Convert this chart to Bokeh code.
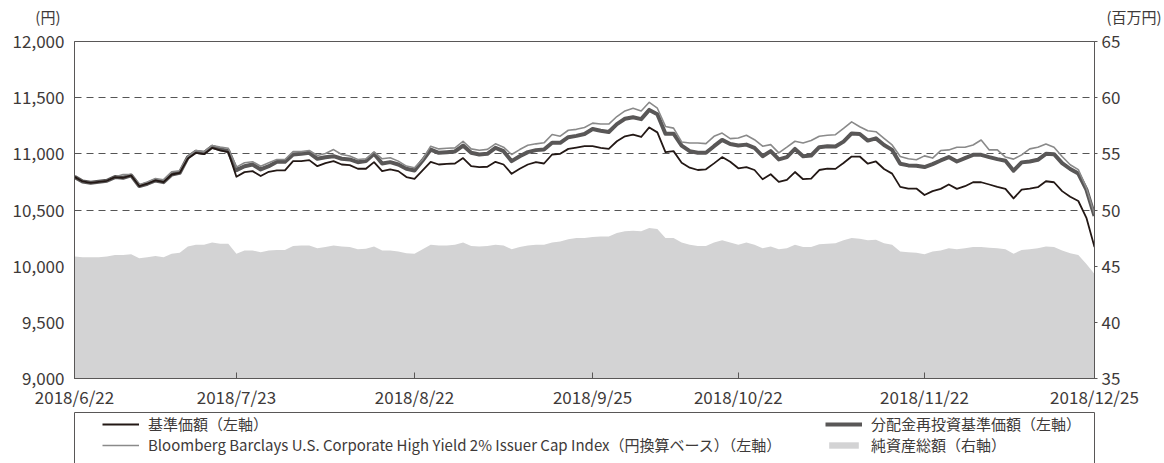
import pandas as pd
from bokeh.plotting import figure
from bokeh.models import (Range1d, LinearAxis, FixedTicker, Legend, LegendItem,
                          NumeralTickFormatter, ColumnDataSource)
from bokeh.layouts import column
from bokeh.embed import file_html
from bokeh.resources import INLINE

# ---------------- data ----------------
holidays = ["2018-07-16", "2018-09-17", "2018-09-24", "2018-10-08", "2018-11-23", "2018-12-24"]
dates = [d for d in pd.bdate_range("2018-06-22", "2018-12-25") if d.strftime("%Y-%m-%d") not in holidays]

tick_dates = ["2018-06-22", "2018-07-23", "2018-08-22", "2018-09-25", "2018-10-22", "2018-11-22", "2018-12-25"]
tick_labels = ["2018/6/22", "2018/7/23", "2018/8/22", "2018/9/25", "2018/10/22", "2018/11/22", "2018/12/25"]

left_ticks = [9000, 9500, 10000, 10500, 11000, 11500, 12000]
right_ticks = [35, 40, 45, 50, 55, 60, 65]

# 基準価額
nav = [10795, 10754, 10742, 10751, 10760, 10793, 10787, 10808, 10713, 10734,
       10763, 10748, 10816, 10831, 10959, 11009, 10997, 11053, 11030, 11015,
       10796, 10837, 10846, 10802, 10840, 10852, 10852, 10935, 10935, 10944,
       10890, 10917, 10935, 10905, 10899, 10867, 10867, 10926, 10846, 10861,
       10846, 10793, 10778, 10852, 10929, 10905, 10911, 10914, 10962, 10890,
       10882, 10885, 10929, 10905, 10822, 10867, 10905, 10926, 10914, 10994,
       11000, 11044, 11056, 11068, 11068, 11053, 11044, 11112, 11156, 11171,
       11150, 11235, 11191, 11015, 11024, 10921, 10877, 10856, 10862, 10915,
       10971, 10929, 10871, 10882, 10856, 10774, 10818, 10750, 10768, 10838,
       10774, 10780, 10856, 10868, 10866, 10918, 10976, 10976, 10912, 10932,
       10865, 10824, 10706, 10691, 10691, 10633, 10668, 10688, 10727, 10688,
       10712, 10747, 10747, 10727, 10706, 10688, 10603, 10682, 10691, 10703,
       10756, 10747, 10668, 10618, 10580, 10430, 10170]

# 分配金再投資基準価額
nav_reinv = [10795, 10754, 10742, 10751, 10760, 10793, 10787, 10808, 10713, 10734,
             10763, 10748, 10816, 10831, 10969, 11019, 11007, 11063, 11040, 11025,
             10855, 10890, 10905, 10861, 10890, 10929, 10929, 10994, 11000, 11009,
             10956, 10970, 10979, 10956, 10950, 10926, 10935, 11000, 10914, 10926,
             10905, 10867, 10852, 10940, 11038, 11009, 11015, 11021, 11074, 11009,
             10994, 11000, 11053, 11024, 10935, 10979, 11015, 11033, 11038, 11098,
             11098, 11148, 11160, 11176, 11221, 11206, 11194, 11265, 11312, 11326,
             11309, 11391, 11353, 11179, 11179, 11074, 11024, 11009, 11009, 11068,
             11124, 11088, 11074, 11082, 11053, 10979, 11024, 10950, 10971, 11044,
             10979, 10985, 11059, 11068, 11065, 11109, 11182, 11176, 11118, 11138,
             11079, 11035, 10912, 10897, 10894, 10882, 10909, 10941, 10971, 10932,
             10962, 10991, 10991, 10971, 10953, 10938, 10850, 10924, 10932, 10947,
             11000, 10997, 10918, 10865, 10824, 10682, 10447]

# Bloomberg Barclays index (円換算)
bench = [10795, 10754, 10742, 10751, 10760, 10793, 10816, 10815, 10725, 10750,
         10780, 10770, 10840, 10850, 10975, 11030, 11020, 11075, 11060, 11050,
         10882, 10920, 10930, 10890, 10920, 10950, 10950, 11020, 11020, 11030,
         10985, 11003, 11038, 10994, 10980, 10950, 10956, 11018, 10956, 10965,
         10935, 10891, 10876, 10950, 11068, 11044, 11050, 11053, 11112, 11044,
         11032, 11040, 11089, 11059, 10994, 11038, 11077, 11089, 11098, 11172,
         11157, 11210, 11218, 11235, 11273, 11265, 11265, 11332, 11382, 11406,
         11382, 11459, 11406, 11244, 11229, 11106, 11097, 11097, 11091, 11156,
         11185, 11135, 11141, 11165, 11126, 11068, 11082, 11009, 11059, 11112,
         11097, 11118, 11156, 11165, 11170, 11226, 11285, 11241, 11206, 11197,
         11138, 11079, 10976, 10956, 10947, 10982, 10962, 11029, 11035, 11059,
         11059, 11079, 11123, 11035, 11035, 10971, 10953, 10991, 11044, 11059,
         11088, 11059, 10976, 10903, 10859, 10697, 10462]

# 純資産総額（百万円）
assets = [45.85, 45.8, 45.8, 45.8, 45.85, 46.0, 46.0, 46.05, 45.7, 45.8,
          45.9, 45.8, 46.1, 46.2, 46.75, 46.9, 46.9, 47.1, 47.0, 47.0,
          46.1, 46.4, 46.4, 46.25, 46.4, 46.45, 46.45, 46.8, 46.85, 46.85,
          46.6, 46.7, 46.85, 46.75, 46.7, 46.5, 46.55, 46.75, 46.4, 46.4,
          46.3, 46.15, 46.1, 46.5, 46.9, 46.85, 46.85, 46.9, 47.1, 46.8,
          46.75, 46.8, 46.9, 46.85, 46.5, 46.7, 46.85, 46.9, 46.9, 47.1,
          47.2, 47.4, 47.5, 47.5, 47.6, 47.65, 47.65, 47.95, 48.1, 48.15,
          48.1, 48.4, 48.3, 47.5, 47.5, 47.1, 46.9, 46.8, 46.8, 47.1,
          47.3, 47.1, 46.9, 47.1, 46.9, 46.6, 46.75, 46.5, 46.6, 46.9,
          46.7, 46.7, 46.95, 47.0, 47.05, 47.3, 47.5, 47.45, 47.3, 47.35,
          47.05, 46.9, 46.3, 46.25, 46.2, 46.05, 46.3, 46.4, 46.6, 46.5,
          46.6, 46.7, 46.7, 46.65, 46.6, 46.5, 46.1, 46.45, 46.5, 46.6,
          46.75, 46.7, 46.4, 46.15, 46.0, 45.2, 44.3]

labels = ["基準価額（左軸）",
          "Bloomberg Barclays U.S. Corporate High Yield 2% Issuer Cap Index（円換算ベース）（左軸）",
          "分配金再投資基準価額（左軸）",
          "純資産総額（右軸）"]
unit_left = "(円)"
unit_right = "(百万円)"

# ---------------- styling ----------------
FONT = "Noto Sans CJK JP"
TXT = "#3e3a39"
AX = "#595757"
C_NAV = "#231815"
C_REINV = "#595757"
C_BENCH = "#8a8a8a"
C_AREA = "#d3d3d4"
BL, BR = 74, 62   # left / right borders shared by all stacked figures

idx = list(range(len(dates)))
date_strs = [d.strftime("%Y-%m-%d") for d in dates]
tick_pos = [date_strs.index(t) for t in tick_dates]

src = ColumnDataSource(dict(x=idx, nav=nav, reinv=nav_reinv, bench=bench, assets=assets))

# ---------------- unit header strip ----------------
hdr = figure(frame_width=1020, frame_height=24, x_range=Range1d(0, 1), y_range=Range1d(0, 2),
             x_axis_type=None, toolbar_location=None, output_backend="svg",
             min_border_left=BL, min_border_right=BR, min_border_top=4, min_border_bottom=0)
hdr.outline_line_color = None
hdr.xgrid.visible = False
hdr.ygrid.visible = False
hdr.background_fill_color = "white"
hdr.border_fill_color = "white"
hl = hdr.yaxis[0]
hl.ticker = FixedTicker(ticks=[1])
hl.major_label_overrides = {1: unit_left}
hr = LinearAxis(ticker=FixedTicker(ticks=[1]), major_label_overrides={1: unit_right})
hdr.add_layout(hr, "right")
for ax, so in [(hl, 8), (hr, 6)]:
    ax.axis_line_color = None
    ax.major_tick_line_color = None
    ax.minor_tick_line_color = None
    ax.major_label_standoff = so
    ax.major_label_text_font = FONT
    ax.major_label_text_font_size = "15px"
    ax.major_label_text_color = TXT

# ---------------- main chart ----------------
p = figure(frame_width=1020, frame_height=337,
           x_range=Range1d(0, len(dates) - 1), y_range=Range1d(9000, 12000),
           toolbar_location=None, output_backend="svg",
           min_border_left=BL, min_border_right=BR, min_border_top=13, min_border_bottom=27)
p.extra_y_ranges = {"assets": Range1d(35, 65)}
p.outline_line_color = AX
p.outline_line_width = 1
p.background_fill_color = "white"
p.border_fill_color = "white"

p.varea(x="x", y1=35, y2="assets", source=src, y_range_name="assets",
        fill_color=C_AREA, fill_alpha=1)
p.line("x", "reinv", source=src, line_color=C_REINV, line_width=4, line_join="round")
p.line("x", "bench", source=src, line_color=C_BENCH, line_width=1.6, line_join="round")
p.line("x", "nav", source=src, line_color=C_NAV, line_width=1.8, line_join="round")

p.xgrid.visible = False
p.ygrid.ticker = FixedTicker(ticks=[10500, 11000, 11500])
p.ygrid.grid_line_color = "#555555"
p.ygrid.grid_line_dash = "7 5"
p.ygrid.grid_line_width = 1

xa = p.xaxis[0]
xa.ticker = FixedTicker(ticks=tick_pos)
xa.major_label_overrides = {pos: lab for pos, lab in zip(tick_pos, tick_labels)}
xa.major_tick_in = 6
xa.major_tick_out = 0
xa.minor_tick_line_color = None
xa.axis_line_color = AX
xa.major_tick_line_color = AX
xa.major_label_standoff = 5

ya = p.yaxis[0]
ya.ticker = FixedTicker(ticks=left_ticks)
ya.formatter = NumeralTickFormatter(format="0,0")
ya.major_tick_in = 0
ya.major_tick_out = 0
ya.minor_tick_line_color = None
ya.axis_line_color = AX
ya.major_label_standoff = 10

ra = LinearAxis(y_range_name="assets", ticker=FixedTicker(ticks=right_ticks))
ra.major_tick_in = 0
ra.major_tick_out = 3
ra.major_tick_line_color = AX
ra.minor_tick_line_color = None
ra.axis_line_color = AX
ra.major_label_standoff = 4
p.add_layout(ra, "right")

for ax in [xa, ya, ra]:
    ax.major_label_text_font = FONT
    ax.major_label_text_font_size = "17px"
    ax.major_label_text_color = TXT

# ---------------- legend box ----------------
lg = figure(frame_width=1020, frame_height=51, x_range=Range1d(0, 1), y_range=Range1d(0, 1),
            x_axis_type=None, y_axis_type=None, toolbar_location=None,
            output_backend="svg", min_border_left=BL, min_border_right=BR,
            min_border_top=1, min_border_bottom=1)
lg.outline_line_color = AX
lg.outline_line_width = 1
lg.background_fill_color = "white"
lg.border_fill_color = "white"

# legend-sample renderers (same data; outside this box's ranges, so only the samples show)
d_nav = lg.line("x", "nav", source=src, line_color=C_NAV, line_width=1.8)
d_bench = lg.line("x", "bench", source=src, line_color=C_BENCH, line_width=1.6)
d_reinv = lg.line("x", "reinv", source=src, line_color=C_REINV, line_width=4)
d_area = lg.varea(x="x", y1=35, y2="assets", source=src, fill_color=C_AREA)


def make_legend(items, loc):
    return Legend(items=items, location=loc, orientation="vertical",
                  border_line_color=None, background_fill_alpha=0,
                  padding=0, spacing=0, margin=0,
                  glyph_width=37, glyph_height=8, label_height=20, label_standoff=9,
                  label_text_font=FONT, label_text_font_size="15px",
                  label_text_color=TXT)


legA = make_legend([LegendItem(label=labels[0], renderers=[d_nav]),
                    LegendItem(label=labels[1], renderers=[d_bench])], (28, 8))
legB = make_legend([LegendItem(label=labels[2], renderers=[d_reinv]),
                    LegendItem(label=labels[3], renderers=[d_area])], (751, 8))
lg.add_layout(legA)
lg.add_layout(legB)

layout = column(hdr, p, lg, spacing=0)
open("out.html", "w").write(file_html(layout, INLINE))
